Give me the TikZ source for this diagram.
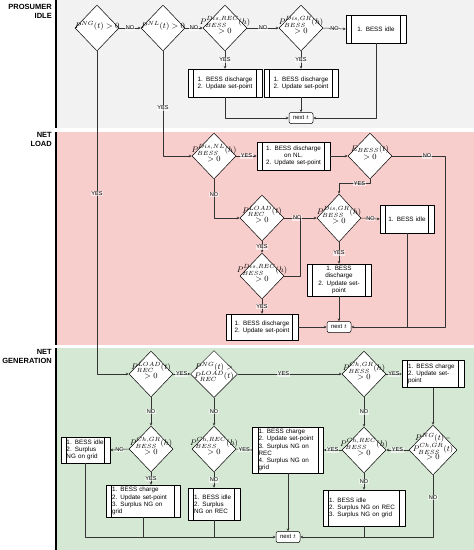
\documentclass[tikz,border=0pt]{standalone}
\usepackage[no-math]{fontspec}
\setmainfont{Liberation Sans}
\usetikzlibrary{arrows.meta,calc,shapes.geometric}

\definecolor{idlegray}{HTML}{F2F2F2}
\definecolor{loadpink}{HTML}{F8CECC}
\definecolor{gengreen}{HTML}{D5E8D4}
% diamond text of zero size, so that the diamond keeps its own size
\newcommand{\dtxt}[1]{\makebox[0pt]{\smash{$\begin{array}{@{}c@{}}#1\end{array}$}}}

\begin{document}
\begin{tikzpicture}[x=1pt, y=-1pt, line join=round,
  dec/.style={diamond, draw, fill=white, line width=0.5pt, inner sep=0pt,
    minimum width=44pt, minimum height=46pt, font=\fontsize{8}{8.5}\selectfont},
  proc/.style={rectangle, draw, fill=white, line width=0.5pt, inner xsep=6pt, inner ysep=1pt,
    align=center, font=\fontsize{6.3}{7.2}\selectfont,
    path picture={
      \draw[line width=0.5pt] ([xshift=5.5pt]path picture bounding box.north west) -- ([xshift=5.5pt]path picture bounding box.south west);
      \draw[line width=0.5pt] ([xshift=-5.5pt]path picture bounding box.north east) -- ([xshift=-5.5pt]path picture bounding box.south east);}},
  nxt/.style={rectangle, rounded corners=2pt, draw, fill=white, line width=0.5pt,
    minimum width=24pt, minimum height=11pt, inner sep=1pt, font=\fontsize{6}{7}\selectfont},
  lbl/.style={fill=white, fill opacity=0.6, text opacity=1, inner sep=0.7pt, font=\fontsize{5.6}{6}\selectfont},
  lane/.style={anchor=north east, align=right, inner sep=0pt, font=\fontsize{7.5}{9}\selectfont\bfseries},
  flow/.style={draw=black!80, line width=0.5pt, -{Stealth[length=2.8pt,width=2.6pt]}},
  tieline/.style={draw=black!80, line width=0.5pt}]
\useasboundingbox (0,0) rectangle (474,550);

% lanes
\fill[idlegray] (57,0) rectangle (474,128);
\fill[loadpink] (57,132) rectangle (474,345);
\fill[gengreen] (57,348) rectangle (474,550);
\draw[line width=1.6pt] (56,0) -- (56,128);
\draw[line width=1.6pt] (56,132) -- (56,345);
\draw[line width=1.6pt] (56,348) -- (56,550);
\node[lane] (lIdle) at (52,4) {PROSUMER\\IDLE};
\node[lane] (lLoad) at (52,132) {NET\\LOAD};
\node[lane] (lGen) at (52,349) {NET\\GENERATION};

% prosumer idle
\node[dec] (dNG) at (97,28) {\dtxt{P^{NG}(t)>0}};
\node[dec] (dNL) at (163,28) {\dtxt{P^{NL}(t)>0}};
\node[dec] (dDisRec) at (225,28) {\dtxt{P^{Dis,REC}_{BESS}(h)\\>0}};
\node[dec] (dDisGr) at (301,28) {\dtxt{P^{Dis,GR}_{BESS}(h)\\>0}};
\node[proc, text width=48pt, minimum height=28pt] (bIdle) at (376,29) {1. BESS idle};
\node[proc, text width=62pt, minimum height=28pt] (bDisRec) at (225,83) {1. BESS discharge\\2. Update set-point};
\node[proc, text width=62pt, minimum height=28pt] (bDisGr) at (301,83) {1. BESS discharge\\2. Update set-point};
\node[nxt] (nextA) at (301,118) {next $t$};

\draw[flow] (dNG.east) -- node[lbl]{NO} (dNL.west);
\draw[flow] (dNL.east) -- node[lbl]{NO} (dDisRec.west);
\draw[flow] (dDisRec.east) -- node[lbl]{NO} (dDisGr.west);
\draw[flow] (dDisGr.east) -- node[lbl]{NO} (bIdle.west);
\draw[flow] (dDisRec.south) -- node[lbl]{YES} (bDisRec.north);
\draw[flow] (dDisGr.south) -- node[lbl]{YES} (bDisGr.north);
\draw[flow] (bDisRec.south) |- (nextA.west);
\draw[flow] (bDisGr.south) -- (nextA.north);
\draw[flow] (bIdle.south) |- (nextA.east);

% net load
\node[dec] (dDisNL) at (214,156) {\dtxt{P^{Dis,NL}_{BESS}(h)\\>0}};
\node[proc, text width=61pt, minimum height=28pt] (bDisNL) at (293.5,156) {1. BESS discharge\\on NL.\\2. Update set-point};
\node[dec] (dE) at (370,156) {\dtxt{E_{BESS}(t)\\>0}};
\coordinate (cE) at (445,156);
\node[dec, minimum height=48pt] (dDisGrL) at (339,218) {\dtxt{P^{Dis,GR}_{BESS}(h)\\>0}};
\node[dec] (dLoadL) at (262,218) {\dtxt{P^{LOAD}_{REC}(t)\\>0}};
\coordinate (jL) at (300,218);
\node[dec] (dDisRecL) at (262,276) {\dtxt{P^{Dis,REC}_{BESS}(h)\\>0}};
\node[proc, text width=42pt, minimum height=28pt] (bIdleL) at (407,219) {1. BESS idle};
\node[proc, text width=52pt, minimum height=32pt] (bDisGrL) at (339,280) {1. BESS\\discharge\\2. Update set-\\point};
\node[proc, text width=60pt, minimum height=26pt] (bDisRecL) at (262,327) {1. BESS discharge\\2. Update set-point};
\node[nxt] (nextB) at (339,327) {next $t$};

\draw[flow] (dNL.south) |- node[lbl, pos=0.27]{YES} (dDisNL.west);
\draw[flow] (dDisNL.east) -- node[lbl]{YES} (bDisNL.west);
\draw[flow] (bDisNL.east) -- (dE.west);
\draw[flow] (dE.east) -- node[lbl, pos=0.66]{NO} (cE) |- (nextB.east);
\draw[flow] (dE.south) -- ++(0,4) -| node[lbl, pos=0.17]{YES} (dDisGrL.north);
\draw[flow] (dDisNL.south) |- node[lbl, pos=0.2]{NO} (dLoadL.west);
\draw[flow] (dLoadL.east) -- node[lbl, pos=0.4]{NO} (dDisGrL.west);
\draw[tieline] (dDisRecL.east) -| (jL);
\draw[flow] (dLoadL.south) -- node[lbl]{YES} (dDisRecL.north);
\draw[flow] (dDisGrL.east) -- node[lbl]{NO} (bIdleL.west);
\draw[flow] (dDisGrL.south) -- node[lbl]{YES} (bDisGrL.north);
\draw[flow] (dDisRecL.south) -- node[lbl]{YES} (bDisRecL.north);
\draw[flow] (bDisGrL.south) -- (nextB.north);
\draw[flow] (bDisRecL.east) -- (nextB.west);
\draw[tieline] (bIdleL.south) -- (bIdleL.south |- nextB.east);

% net generation
\node[dec] (dLoadG) at (151,374) {\dtxt{P^{LOAD}_{REC}(t)\\>0}};
\node[dec, minimum width=47pt, minimum height=47pt] (dNGG) at (214,374) {\dtxt{P^{NG}(t)>\\P^{LOAD}_{REC}(t)}};
\node[dec] (dChGr) at (364,374) {\dtxt{P^{Ch,GR}_{BESS}(h)\\>0}};
\node[proc, align=left, text width=50pt, minimum height=27pt] (bChGr) at (433,374) {1. BESS charge\\2. Update set-\\point};
\node[dec, minimum width=48pt, minimum height=50pt] (dDiff) at (433,450) {\dtxt{P^{NG}(t)-\\P^{Ch,GR}_{BESS}(t)\\>0}};
\node[dec] (dChRecR) at (364,450) {\dtxt{P^{Ch,REC}_{BESS}(h)\\>0}};
\node[proc, align=left, text width=59pt, minimum height=46pt] (bChRec4) at (288,450) {1. BESS charge\\2. Update set-point\\3. Surplus NG on\\REC\\4. Surplus NG on\\grid};
\node[proc, align=left, text width=70pt, minimum height=36pt] (bIdle3) at (364,508) {1. BESS idle\\2. Surplus NG on REC\\3. Surplus NG on grid};
\node[dec] (dChGrL) at (151,449) {\dtxt{P^{Ch,GR}_{BESS}(h)\\>0}};
\node[proc, align=left, text width=38pt, minimum height=26pt, inner xsep=5.5pt] (bIdleGrid) at (85.5,450) {1. BESS idle\\2. Surplus\\NG on grid};
\node[proc, align=left, text width=62pt, minimum height=32pt] (bCh3) at (143,501) {1. BESS charge\\2. Update set-point\\3. Surplus NG on\\grid};
\node[dec] (dChRecL) at (214,449) {\dtxt{P^{Ch,REC}_{BESS}(h)\\>0}};
\node[proc, align=left, text width=40pt, minimum height=32pt] (bIdleRec) at (214,504) {1. BESS idle\\2. Surplus\\NG on REC};
\node[nxt] (nextC) at (288,537) {next $t$};

\draw[flow] (dNG.south) |- node[lbl, pos=0.22]{YES} (dLoadG.west);
\draw[flow] (dLoadG.east) -- node[lbl]{YES} (dNGG.west);
\draw[flow] (dNGG.east) -- node[lbl, pos=0.44]{YES} (dChGr.west);
\draw[flow] (dChGr.east) -- node[lbl]{YES} (bChGr.west);
\draw[flow] (bChGr.south) -- (dDiff.north);
\draw[flow] (dDiff.west) -- node[lbl]{YES} (dChRecR.east);
\draw[flow] (dChGr.south) -- node[lbl]{NO} (dChRecR.north);
\draw[flow] (dChRecR.west) -- node[lbl]{YES} (bChRec4.east);
\draw[flow] (dChRecR.south) -- node[lbl]{NO} (bIdle3.north);
\draw[flow] (dLoadG.south) -- node[lbl]{NO} (dChGrL.north);
\draw[flow] (dNGG.south) -- node[lbl]{NO} (dChRecL.north);
\draw[flow] (dChGrL.west) -- node[lbl]{NO} (bIdleGrid.east);
\draw[flow] (dChGrL.south) -- node[lbl]{YES} (dChGrL.south |- bCh3.north);
\draw[flow] (dChRecL.east) -- node[lbl]{YES} (bChRec4.west);
\draw[flow] (dChRecL.south) -- node[lbl]{NO} (bIdleRec.north);
\draw[flow] (bChRec4.south) -- (nextC.north);
\draw[flow] (bIdleGrid.south) |- (nextC.west);
\draw[tieline] (bCh3.south) -- (bCh3.south |- nextC.west);
\draw[tieline] (bIdleRec.south) -- (bIdleRec.south |- nextC.west);
\draw[flow] (dDiff.south) |- node[lbl, pos=0.18]{NO} (nextC.east);
\draw[tieline] (bIdle3.south) -- (bIdle3.south |- nextC.east);
\end{tikzpicture}
\end{document}
